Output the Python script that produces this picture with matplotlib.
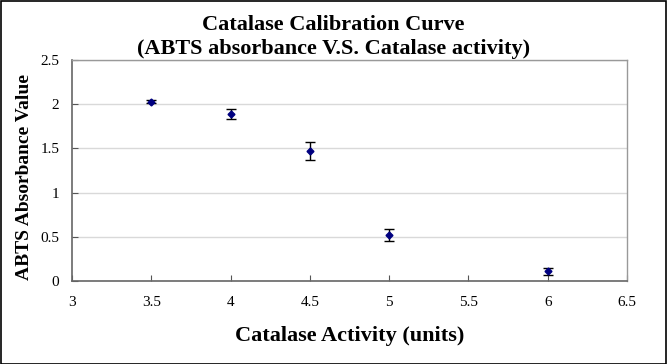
import matplotlib
matplotlib.use("Agg")
import matplotlib.pyplot as plt
from matplotlib.patches import Rectangle

activity = [3.5, 4.0, 4.5, 5.0, 6.0]
absorbance = [2.03, 1.89, 1.47, 0.52, 0.11]
errors = [0.02, 0.06, 0.10, 0.07, 0.04]
xticks = [3, 3.5, 4, 4.5, 5, 5.5, 6, 6.5]
yticks = [0, 0.5, 1, 1.5, 2, 2.5]

plt.rcParams['font.family'] = ['Liberation Serif', 'DejaVu Serif']

fig = plt.figure(figsize=(6.67, 3.64), dpi=100)
ax = fig.add_axes([72/667, 1 - 281/364, (627-72)/667, (281-60)/364])

ax.errorbar(activity, absorbance, yerr=errors, fmt='D', color='#000080',
            markersize=3.5, ecolor='black', elinewidth=1, capsize=3.5, capthick=1, zorder=3)

ax.set_xlim(3, 6.5)
ax.set_ylim(0, 2.5)
ax.set_xticks(xticks)
ax.set_xticklabels([f"{t:g}" for t in xticks])
ax.set_yticks(yticks)
ax.set_yticklabels([f"{t:g}" for t in yticks])
ax.tick_params(axis='both', direction='in', length=4, labelsize=11, color='#555555')
ax.tick_params(axis='x', pad=11)
ax.tick_params(axis='y', pad=9)
ax.yaxis.grid(True, color='#d9d9d9', linewidth=1)
ax.set_axisbelow(True)
for side in ['left', 'bottom']:
    ax.spines[side].set_color('#666666')
    ax.spines[side].set_linewidth(1.2)
for side in ['top', 'right']:
    ax.spines[side].set_color('#999999')
    ax.spines[side].set_linewidth(1)

ax.set_xlabel('Catalase Activity (units)', fontsize=16, fontweight='bold', labelpad=12)
ax.set_ylabel('ABTS Absorbance Value', fontsize=14, fontweight='bold')
ax.yaxis.set_label_coords((33 - 72) / 555, 0.47)

fig.text(0.5, 1 - 25/364, 'Catalase Calibration Curve', ha='center', va='center',
         fontsize=16, fontweight='bold')
fig.text(0.5, 1 - 49/364, '(ABTS absorbance V.S. Catalase activity)', ha='center', va='center',
         fontsize=16, fontweight='bold')

fig.patches.append(Rectangle((0.5/667, 0.5/364), 1 - 1.5/667, 1 - 1.5/364, transform=fig.transFigure,
                             fill=False, edgecolor='black', linewidth=1.2))

fig.savefig('out.png', dpi=100)
